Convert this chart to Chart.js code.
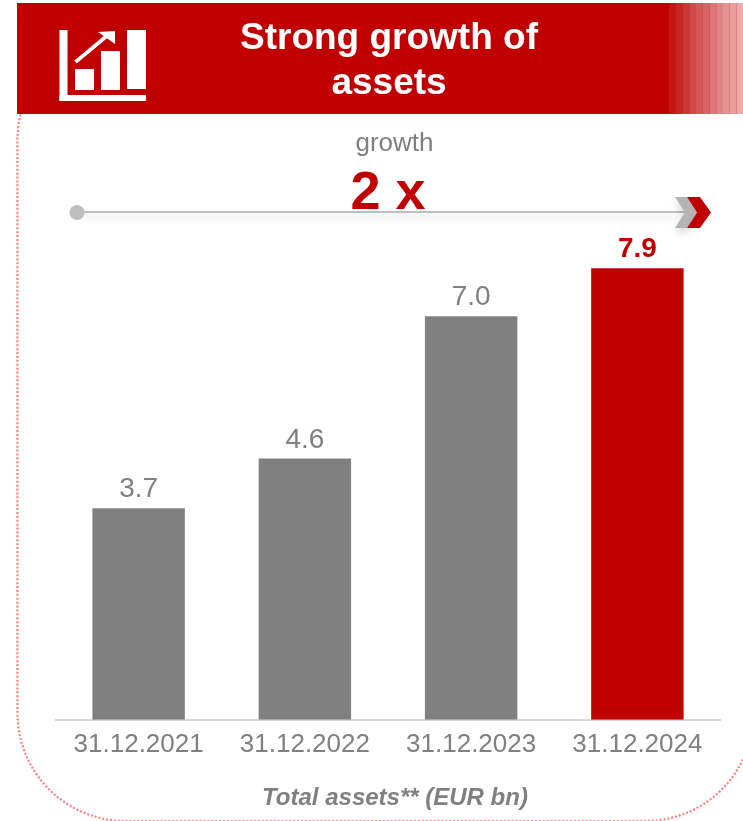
<!DOCTYPE html>
<html><head><meta charset="utf-8">
<style>html,body{margin:0;padding:0;background:#fff;overflow:hidden}canvas{display:block}</style>
<script src="https://cdn.jsdelivr.net/npm/chart.js@4"></script></head>
<body><div style="position:relative;width:743px;height:821px"><canvas id="c" width="743" height="821"></canvas></div>
<script>
const categories = ['31.12.2021','31.12.2022','31.12.2023','31.12.2024'];
const assets = [3.7,4.57,7.06,7.9];
const valueLabels = ['3.7','4.6','7.0','7.9'];
const barColors = ['#808080','#808080','#808080','#C00000'];
const titleLines = ['Strong growth of','assets'];
const growthLabel = 'growth';
const growthValue = '2 x';
const axisTitle = 'Total assets** (EUR bn)';
const FONT = '"Liberation Sans", Arial, sans-serif';
const RED = '#C00000', GREY = '#808080';

function poly(ctx, pts, fill){
  ctx.beginPath();
  pts.forEach((p,i)=> i?ctx.lineTo(p[0],p[1]):ctx.moveTo(p[0],p[1]));
  ctx.closePath(); ctx.fillStyle=fill; ctx.fill();
}
const decor = {
  id:'decor',
  beforeDraw(chart){
    const ctx = chart.ctx; ctx.save();
    ctx.fillStyle='#fff'; ctx.fillRect(0,0,743,821);
    // dotted frame
    ctx.beginPath(); ctx.roundRect(17.5,32,736,789,108);
    ctx.strokeStyle='#FF8080'; ctx.lineWidth=2.2; ctx.setLineDash([2,1.9]); ctx.stroke(); ctx.setLineDash([]);
    // header
    ctx.fillStyle=RED; ctx.fillRect(17,3,726,111);
    const strips=['#C41414','#C72626','#CC3838','#D04A4A','#D45858','#D86666','#DC7676','#E08484','#E49292','#E89E9E','#ECACAC'];
    strips.forEach((s,i)=>{ctx.fillStyle=s; ctx.fillRect(669+i*6.75,3,6.8,111);});
    // icon
    ctx.fillStyle='#fff';
    ctx.fillRect(59.5,30,8,71); ctx.fillRect(59.5,95,86.5,6);
    ctx.fillRect(75,69,19,21); ctx.fillRect(101,51,19,39); ctx.fillRect(127,30,19,59);
    ctx.strokeStyle='#fff'; ctx.lineWidth=3.6; ctx.beginPath(); ctx.moveTo(75.5,62); ctx.lineTo(108,35); ctx.stroke();
    poly(ctx,[[115,31],[98,32],[115,44]],'#fff');
    // header text
    ctx.fillStyle='#fff'; ctx.textAlign='center'; ctx.textBaseline='alphabetic';
    ctx.font='bold 37px '+FONT;
    ctx.fillText(titleLines[0],389,49); ctx.fillText(titleLines[1],389,94);
    // growth text
    ctx.fillStyle=GREY; ctx.font='26px '+FONT; ctx.fillText(growthLabel,394.5,151);
    // arrow
    ctx.save(); ctx.shadowColor='rgba(0,0,0,0.16)'; ctx.shadowBlur=7; ctx.shadowOffsetY=4;
    ctx.strokeStyle='#BFBFBF'; ctx.lineWidth=2; ctx.beginPath(); ctx.moveTo(80,212); ctx.lineTo(686,212); ctx.stroke();
    poly(ctx,[[675,197],[687,197],[697,212.5],[687,228],[675,228],[685,212.5]],'#B4B4B4');
    ctx.restore();
    ctx.fillStyle='#BFBFBF'; ctx.beginPath(); ctx.arc(77,212.5,7.6,0,Math.PI*2); ctx.fill();
    poly(ctx,[[687,197],[700,197],[711,212.5],[700,228],[687,228],[697,212.5]],RED);
    ctx.fillStyle=RED; ctx.font='bold 54px '+FONT; ctx.fillText(growthValue,388,208.5);
    ctx.restore();
  },
  afterDatasetsDraw(chart){
    const ctx=chart.ctx, m=chart.getDatasetMeta(0); ctx.save();
    ctx.textAlign='center'; ctx.textBaseline='alphabetic';
    m.data.forEach((b,i)=>{
      const last=i===valueLabels.length-1;
      ctx.fillStyle=last?RED:GREY;
      ctx.font=(last?'bold 28px ':'28px ')+FONT;
      ctx.fillText(valueLabels[i],b.x,b.y-11);
    });
    ctx.fillStyle=GREY; ctx.font='italic bold 24px '+FONT;
    ctx.fillText(axisTitle,395,805);
    ctx.restore();
  }
};
new Chart(document.getElementById('c'),{
  type:'bar',
  data:{labels:categories,datasets:[{data:assets,backgroundColor:barColors,borderWidth:0,categoryPercentage:1,barPercentage:0.556}]},
  options:{
    responsive:false,animation:false,
    layout:{padding:{left:55.5,right:22.5,top:234,bottom:52}},
    plugins:{legend:{display:false},tooltip:{enabled:false}},
    scales:{
      y:{display:false,min:0,max:8.5},
      x:{
        grid:{display:false,drawTicks:false},
        border:{display:true,color:'#D9D9D9',width:2},
        ticks:{color:GREY,font:{family:FONT,size:26},padding:9,maxRotation:0,autoSkip:false}
      }
    }
  },
  plugins:[decor]
});
</script></body></html>
